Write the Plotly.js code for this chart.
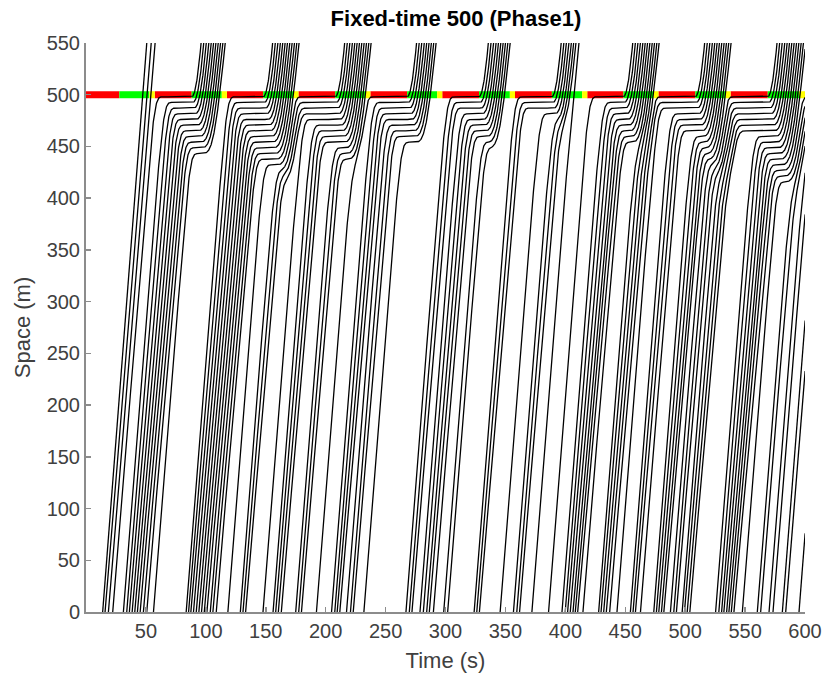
<!DOCTYPE html>
<html><head><meta charset="utf-8">
<script src="https://cdn.plot.ly/plotly-3.0.1.min.js"></script>
<style>html,body{margin:0;padding:0;background:#fff}#chart{width:823px;height:677px}</style>
</head><body><div id="chart"></div>
<script>
// Times (s) at which each vehicle crosses Space = 0 m
const entryTimes = [
  13.9, 15.9, 18.7, 22.3,
  31.2, 34.0, 36.2, 38.5, 40.7, 42.9, 45.2, 47.9, 50.7, 56.3,
  83.6, 85.6, 87.5, 89.7, 92.0, 94.2, 96.4, 98.7, 100.9, 103.7, 105.9, 108.7,
  118.4, 128.8, 131.0, 133.2, 147.7,
  156.1, 158.3, 160.5, 163.0, 175.0, 177.5, 179.8, 192.3,
  204.9, 207.6, 209.6, 211.8, 217.4, 220.7, 223.0, 231.9,
  267.0, 269.8, 272.0, 278.7, 281.5, 284.3, 286.5, 289.9, 298.5, 301.8,
  323.9, 326.1, 328.3, 345.6, 356.7, 359.5, 361.8, 372.1, 386.0,
  397.2, 399.9, 401.9, 404.1, 406.4, 408.3, 410.3, 414.7,
  427.8, 429.8, 432.0, 434.2, 437.0, 443.1,
  454.3, 456.5, 458.5, 462.7,
  473.8, 476.0, 478.0, 480.2, 482.2, 487.7, 490.5, 492.7,
  497.5, 499.4, 501.7, 503.9,
  525.4, 528.1, 530.4, 532.3, 534.6, 536.5, 538.5, 540.7, 547.7,
  560.2, 563.0, 570.0, 573.3, 581.1, 583.9, 595.0
];
// Signal phases at the 500 m stop line
const phaseStart = [0, 27.8, 52.9, 57.4, 88.2, 113.3, 117.6, 147.9, 172.9, 177.3,
  208.0, 233.0, 237.3, 268.0, 293.0, 297.3, 328.0, 353.7, 358.0, 388.8,
  414.0, 418.3, 448.5, 473.5, 477.7, 508.5, 533.6, 537.9, 568.9, 595.0];
const phaseEnd = [27.8, 52.9, 57.4, 88.2, 113.3, 117.6, 147.9, 172.9, 177.3, 208.0,
  233.0, 237.3, 268.0, 293.0, 297.3, 328.0, 353.7, 358.0, 388.8, 414.0,
  418.3, 448.5, 473.5, 477.7, 508.5, 533.6, 537.9, 568.9, 595.0, 600.5];
const phaseColor = ['R','G','Y','R','G','Y','R','G','Y','R','G','Y','R','G','Y',
  'R','G','Y','R','G','Y','R','G','Y','R','G','Y','R','G','Y'];
const stopLine = 500;
const xTicks = [50,100,150,200,250,300,350,400,450,500,550,600];
const yTicks = [0,50,100,150,200,250,300,350,400,450,500,550];

// car-following (IDM) model settings
const V0 = 15, A = 1.8, B = 2.0, S0 = 2.0, TH = 1.2, LEN = 3.5, DT = 0.1, TEND = 600;

function phaseAt(t){
  for (let k=0;k<phaseStart.length;k++) if (t>=phaseStart[k] && t<phaseEnd[k]) return phaseColor[k];
  return 'G';
}
function idm(v, gap, dv){
  const ss = S0 + Math.max(0, v*TH + v*dv/(2*Math.sqrt(A*B)));
  const g = Math.max(gap, 0.05);
  return A*(1 - Math.pow(v/V0,4) - (ss/g)*(ss/g));
}
const veh = entryTimes.map(t0 => ({t0, s:0, v:V0, active:false, rec:true, committed:false, xs:[], ys:[]}));
let step = 0;
for (let t=0; t<=TEND+1e-9; t+=DT, step++){
  const ph = phaseAt(t);
  if (ph==='G') veh.forEach(q=>q.committed=false);
  veh.forEach((q,i)=>{
    if (!q.active && q.t0<=t && q.rec){
      q.active = true; q.s = V0*(t-q.t0); q.v = V0;
      q.xs.push(q.t0); q.ys.push(0);
    }
  });
  const acc = veh.map((q,i)=>{
    if (!q.active) return 0;
    let a = A*(1-Math.pow(q.v/V0,4));
    const L = i>0 ? veh[i-1] : null;
    if (L && L.active && L.s < 2000){
      a = Math.min(a, idm(q.v, L.s - LEN - q.s, q.v - L.v));
    }
    if (ph!=='G' && !q.committed && q.s < stopLine){
      const d = stopLine - q.s;
      if (ph==='Y' && d < q.v*q.v/(2*2.5)) q.committed = true;
      else if (ph==='R' && d < q.v*q.v/(2*9)) q.committed = true;
      else a = Math.min(a, idm(q.v, d, q.v));
    }
    return Math.max(a, -9);
  });
  veh.forEach((q,i)=>{
    if (!q.active) return;
    const a = acc[i];
    let vn = q.v + a*DT;
    if (vn < 0){ q.s += -0.5*q.v*q.v/a; vn = 0; }
    else q.s += 0.5*(q.v+vn)*DT;
    q.v = vn;
    if (q.rec){
      if (q.s >= 560){ q.xs.push(t+DT); q.ys.push(q.s); q.rec = false; }
      else if (step%2===0 || t+DT>TEND-1e-9){ q.xs.push(t+DT); q.ys.push(q.s); }
    }
  });
}
const tx=[], ty=[];
veh.forEach(q=>{ if(q.xs.length){ tx.push(...q.xs, null); ty.push(...q.ys, null);} });

const colorMap = {R:'#ff0000', G:'#00ff00', Y:'#ffff00'};
const sigTraces = ['R','G','Y'].map(c=>{
  const x=[], y=[];
  phaseStart.forEach((s,k)=>{ if(phaseColor[k]===c){ x.push(s, phaseEnd[k], null); y.push(stopLine, stopLine, null);} });
  return {x, y, type:'scatter', mode:'lines', line:{color:colorMap[c], width:7}, hoverinfo:'skip', showlegend:false};
});
const traj = {x:tx, y:ty, type:'scatter', mode:'lines', line:{color:'#000', width:1.3}, hoverinfo:'skip', showlegend:false, connectgaps:false};

const FONT = 'Liberation Sans, Arial, sans-serif';
const axisCommon = {showgrid:false, zeroline:false, showline:true, linecolor:'#8c8c8c', linewidth:2,
  ticks:'inside', ticklen:5, tickwidth:1.5, tickcolor:'#8c8c8c', mirror:false,
  tickfont:{family:FONT, size:20, color:'#404040'}};
const layout = {
  width:823, height:677, paper_bgcolor:'#fff', plot_bgcolor:'#fff', showlegend:false,
  margin:{l:86, r:18, t:43, b:65},
  title:{text:'<b>Fixed-time 500 (Phase1)</b>', x:0.554, xanchor:'center', y:0.973, yanchor:'middle',
    font:{family:FONT, size:22, color:'#000'}},
  xaxis:Object.assign({}, axisCommon, {range:[0,600], tickvals:xTicks, ticktext:xTicks.map(String),
    title:{text:'Time (s)', font:{family:FONT, size:22, color:'#404040'}, standoff:12}}),
  yaxis:Object.assign({}, axisCommon, {range:[0,550], tickvals:yTicks, ticktext:yTicks.map(String),
    title:{text:'Space (m)', font:{family:FONT, size:22, color:'#404040'}, standoff:10}})
};
Plotly.newPlot('chart', [...sigTraces, traj], layout, {displayModeBar:false, staticPlot:true});
</script></body></html>
